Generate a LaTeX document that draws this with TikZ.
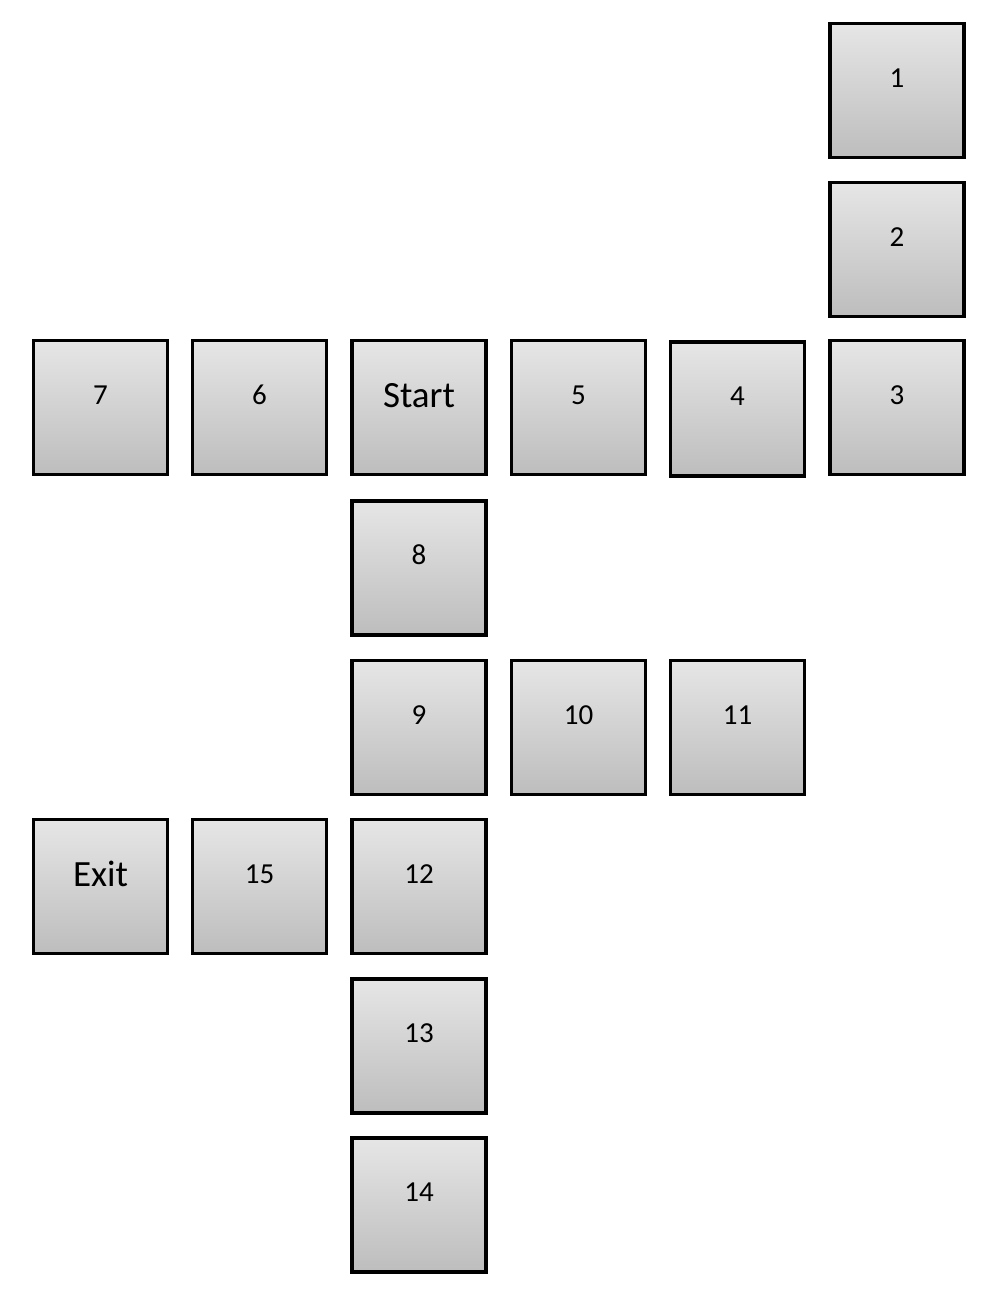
\documentclass[tikz,border=0pt]{standalone}
\usepackage{fontspec}
\setmainfont{Carlito}
\definecolor{gtop}{HTML}{E7E6E7}
\definecolor{gbot}{HTML}{BDBDBD}
\tikzset{
  cell/.style={draw=black, line width=3.2pt, minimum width=134pt, minimum height=134pt,
    inner sep=0pt, top color=gtop, middle color=gtop, bottom color=gbot,
    text height=20pt, text depth=27pt,
    font=\fontsize{29pt}{29pt}\selectfont, text=black},
  bigcell/.style={cell, text height=22pt, text depth=22pt, font=\fontsize{37pt}{37pt}\selectfont}
}
\begin{document}
\begin{tikzpicture}[x=1pt,y=-1pt]
\useasboundingbox (0,0) rectangle (997,1301);
\node[cell] (n1) at (897,90.5) {1};
\node[cell] (n2) at (897,249.5) {2};
\node[cell] (n3) at (897,407.5) {3};
\node[cell] (n4) at (737.5,409) {4};
\node[cell] (n5) at (578.5,407.5) {5};
\node[bigcell] (start) at (419,407.5) {Start};
\node[cell] (n6) at (259.5,407.5) {6};
\node[cell] (n7) at (100.5,407.5) {7};
\node[cell] (n8) at (419,568) {8};
\node[cell] (n9) at (419,727.5) {9};
\node[cell] (n10) at (578.5,727.5) {10};
\node[cell] (n11) at (737.5,727.5) {11};
\node[cell] (n12) at (419,886.5) {12};
\node[cell] (n15) at (259.5,886.5) {15};
\node[bigcell] (exit) at (100.5,886.5) {Exit};
\node[cell] (n13) at (419,1046) {13};
\node[cell] (n14) at (419,1205) {14};
\end{tikzpicture}
\end{document}
